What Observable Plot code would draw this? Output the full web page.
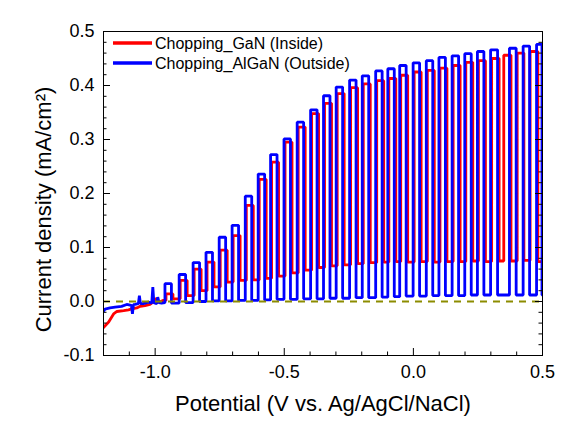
<!DOCTYPE html>
<html>
<head>
<meta charset="utf-8">
<script src="https://cdn.jsdelivr.net/npm/d3@7"></script>
<script src="https://cdn.jsdelivr.net/npm/@observablehq/plot@0.6"></script>
<style>
  html, body { margin: 0; padding: 0; background: #fff; }
  svg { font-family: "Liberation Sans", Arial, sans-serif; }
</style>
</head>
<body>
<div id="chart"></div>
<script>
// ---- tick values ----
const xMajor = [-1.0, -0.5, 0.0, 0.5];
const xMinor = [-1.1, -0.9, -0.8, -0.7, -0.6, -0.4, -0.3, -0.2, -0.1, 0.1, 0.2, 0.3, 0.4];
const yMajor = [-0.1, 0.0, 0.1, 0.2, 0.3, 0.4, 0.5];
const yMinor = [-0.08, -0.06, -0.04, -0.02, 0.02, 0.04, 0.06, 0.08, 0.12, 0.14, 0.16, 0.18,
                0.22, 0.24, 0.26, 0.28, 0.32, 0.34, 0.36, 0.38, 0.42, 0.44, 0.46, 0.48];

const seriesNames = ["Chopping_GaN (Inside)", "Chopping_AlGaN (Outside)"];
const xTitle = "Potential (V vs. Ag/AgCl/NaCl)";
const yTitle = "Current density (mA/cm\u00B2)";

// ---- AlGaN (blue): dark baseline before chopping ----
const blueBaseV = [-1.2, -1.194, -1.175, -1.155, -1.13, -1.11, -1.092, -1.088, -1.084, -1.078, -1.065, -1.061, -1.057,
                   -1.046, -1.026, -1.013, -1.009, -1.005, -0.994, -0.99, -0.985, -0.975, -0.962];
const blueBaseI = [-0.018, -0.014, -0.012, -0.0105, -0.009, -0.0055, -0.007, -0.023, -0.006, -0.0055, -0.004, 0.011, -0.004,
                   -0.004, -0.001, -0.003, 0.0265, -0.002, -0.004, 0.008, -0.002, -0.003, -0.002];
// light-on / light-off potentials, photocurrent and dark current per chopping cycle
const blueOn  = [-0.962, -0.907, -0.853, -0.803, -0.752, -0.702, -0.651, -0.601, -0.553, -0.501, -0.450, -0.398, -0.348, -0.299, -0.247,
                 -0.198, -0.146, -0.099, -0.053, -0.001, 0.050, 0.099, 0.150, 0.199, 0.248, 0.299, 0.372, 0.425, 0.477];
const blueOff = [-0.937, -0.882, -0.828, -0.778, -0.727, -0.677, -0.626, -0.576, -0.528, -0.476, -0.425, -0.373, -0.323, -0.274, -0.222,
                 -0.173, -0.121, -0.074, -0.028, 0.024, 0.075, 0.124, 0.175, 0.224, 0.273, 0.326, 0.398, 0.450, 0.498];
const bluePeak = [0.033, 0.050, 0.072, 0.091, 0.119, 0.141, 0.195, 0.236, 0.272, 0.301, 0.332, 0.355, 0.381, 0.397, 0.410,
                  0.418, 0.427, 0.431, 0.437, 0.442, 0.446, 0.452, 0.455, 0.459, 0.463, 0.466, 0.469, 0.473, 0.476];
const blueDark = [-0.003, -0.002, 0.000, 0.001, 0.001, 0.002, 0.002, 0.003, 0.004, 0.004, 0.005, 0.005, 0.006, 0.006, 0.007,
                  0.007, 0.008, 0.009, 0.010, 0.010, 0.011, 0.011, 0.011, 0.012, 0.012, 0.012, 0.012, 0.012, 0.012];

// ---- GaN (red) ----
const redBaseV = [-1.2, -1.18, -1.161, -1.148, -1.122, -1.103, -1.09, -1.071, -1.058, -1.039, -1.02, -1.003, -0.997, -0.99,
                  -0.982, -0.97, -0.958];
const redBaseI = [-0.048, -0.038, -0.023, -0.0185, -0.017, -0.0155, -0.0135, -0.012, -0.009, -0.0075, -0.0055, 0.0006, 0.006,
                  -0.0005, -0.001, 0.002, 0.002];
const redOn  = [-0.958, -0.903, -0.849, -0.799, -0.748, -0.698, -0.647, -0.597, -0.549, -0.497, -0.446, -0.394, -0.344, -0.295, -0.243,
                -0.194, -0.142, -0.095, -0.049, 0.003, 0.054, 0.103, 0.154, 0.203, 0.252, 0.303, 0.350, 0.402, 0.452];
const redOff = [-0.931, -0.876, -0.822, -0.772, -0.721, -0.671, -0.620, -0.570, -0.522, -0.470, -0.419, -0.367, -0.317, -0.268, -0.216,
                -0.167, -0.115, -0.068, -0.022, 0.030, 0.081, 0.130, 0.181, 0.230, 0.279, 0.332, 0.378, 0.428, 0.482];
const redPeak = [0.014, 0.039, 0.060, 0.073, 0.095, 0.122, 0.178, 0.226, 0.258, 0.295, 0.323, 0.348, 0.367, 0.385, 0.396,
                 0.403, 0.409, 0.413, 0.419, 0.425, 0.428, 0.432, 0.437, 0.443, 0.446, 0.450, 0.456, 0.460, 0.463];
const redDark = [0.005, 0.011, 0.020, 0.027, 0.036, 0.039, 0.040, 0.043, 0.047, 0.053, 0.058, 0.063, 0.066, 0.068, 0.070,
                 0.072, 0.073, 0.074, 0.073, 0.074, 0.073, 0.074, 0.074, 0.075, 0.074, 0.075, 0.075, 0.076, 0.074];
const scanEnd = 0.5;

function buildSeries(name, baseV, baseI, on, off, peak, dark) {
  const pts = baseV.map((v, i) => ({series: name, V: v, I: baseI[i]}));
  let prev = baseI[baseI.length - 1];
  for (let i = 0; i < on.length; i++) {
    pts.push({series: name, V: on[i], I: prev});
    pts.push({series: name, V: on[i], I: peak[i]});
    pts.push({series: name, V: off[i], I: peak[i]});
    pts.push({series: name, V: off[i], I: dark[i]});
    prev = dark[i];
  }
  if (off[off.length - 1] < scanEnd) pts.push({series: name, V: scanEnd, I: prev});
  return pts;
}

const redData = buildSeries(seriesNames[0], redBaseV, redBaseI, redOn, redOff, redPeak, redDark);
const blueData = buildSeries(seriesNames[1], blueBaseV, blueBaseI, blueOn, blueOff, bluePeak, blueDark);

const colors = ["#ff0000", "#0000ff"];
const fmt = d => d.toFixed(1);

const W = 574, H = 428, ML = 103, MR = 32, MT = 31, MB = 73;
const plotW = W - ML - MR, plotH = H - MT - MB;
const majorLen = 7, minorLen = 3.5;

const chart = Plot.plot({
  width: W,
  height: H,
  marginLeft: ML,
  marginRight: MR,
  marginTop: MT,
  marginBottom: MB,
  style: {fontFamily: "'Liberation Sans', Arial, sans-serif", background: "#fff", color: "#000"},
  x: {domain: [-1.2, 0.5]},
  y: {domain: [-0.1, 0.5]},
  marks: [
    Plot.line(redData, {x: "V", y: "I", stroke: colors[0], strokeWidth: 2.8, strokeLinejoin: "miter", clip: true}),
    Plot.line(blueData, {x: "V", y: "I", stroke: colors[1], strokeWidth: 2.8, strokeLinejoin: "miter", clip: true}),
    Plot.ruleY([0], {stroke: "#8c8c00", strokeWidth: 2, strokeDasharray: "7,6"}),
    Plot.frame({stroke: "#000", strokeWidth: 1}),
    // inward ticks: bottom, left, right
    Plot.tickX(xMajor, {x: d => d, stroke: "#000", insetTop: plotH - majorLen}),
    Plot.tickX(xMinor, {x: d => d, stroke: "#000", insetTop: plotH - minorLen}),
    Plot.tickY(yMajor, {y: d => d, stroke: "#000", insetRight: plotW - majorLen}),
    Plot.tickY(yMinor, {y: d => d, stroke: "#000", insetRight: plotW - minorLen}),
    Plot.tickY(yMajor, {y: d => d, stroke: "#000", insetLeft: plotW - majorLen}),
    Plot.tickY(yMinor, {y: d => d, stroke: "#000", insetLeft: plotW - minorLen}),
    // tick labels
    Plot.axisX({ticks: xMajor, tickSize: 0, tickPadding: 10, tickFormat: fmt, fontSize: 18, label: null}),
    Plot.axisY({ticks: yMajor, tickSize: 0, tickPadding: 9, tickFormat: fmt, fontSize: 18, label: null}),
    // axis titles
    Plot.text([xTitle], {frameAnchor: "bottom", dy: 55, lineAnchor: "bottom", textAnchor: "middle", fontSize: 22, text: d => d}),
    Plot.text([yTitle], {frameAnchor: "left", dx: -60, dy: 16, rotate: -90, lineAnchor: "middle", textAnchor: "middle", fontSize: 22, text: d => d})
  ]
});

// legend inside the frame (top-left)
const svg = d3.select(chart);
const leg = svg.append("g")
  .attr("font-family", "'Liberation Sans', Arial, sans-serif")
  .attr("font-size", 16)
  .attr("text-anchor", "start");
seriesNames.forEach((name, i) => {
  const y = 43 + i * 20;
  leg.append("line").attr("x1", 113).attr("x2", 152).attr("y1", y).attr("y2", y)
     .attr("stroke", colors[i]).attr("stroke-width", 3.5);
  leg.append("text").attr("x", 155).attr("y", y).attr("dy", "0.35em")
     .attr("fill", "#000").attr("text-anchor", "start").text(name);
});

document.getElementById("chart").appendChild(chart);
</script>
</body>
</html>
